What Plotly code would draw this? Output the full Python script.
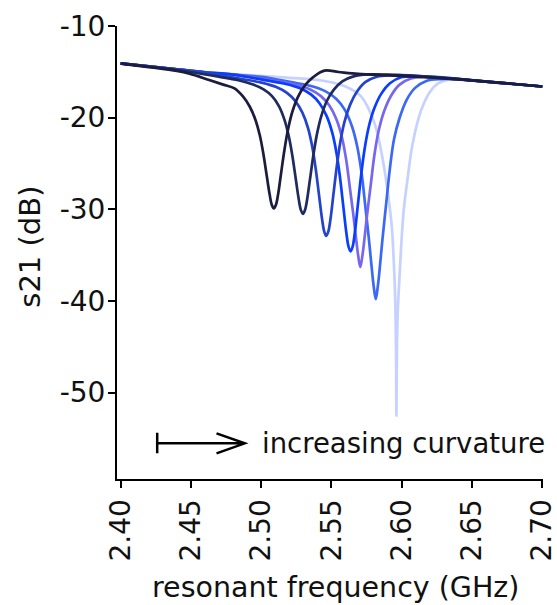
import plotly.graph_objects as go

# ---- data ----
c1_f = [2.400, 2.420, 2.440, 2.449, 2.463, 2.473, 2.481, 2.487, 2.492, 2.496, 2.499, 2.5015, 2.504, 2.506, 2.5075, 2.509,
        2.5105, 2.512, 2.514, 2.5165, 2.519, 2.522, 2.526, 2.531, 2.537, 2.545, 2.555, 2.569, 2.589, 2.600, 2.620, 2.640,
        2.660, 2.680, 2.700]
c1_db = [-14.10, -14.48, -14.90, -15.20, -15.90, -16.40, -16.81, -17.69, -18.84, -20.28, -21.92, -23.91, -26.40, -28.37,
         -29.50, -29.90, -29.50, -28.39, -26.23, -23.56, -21.35, -19.44, -17.78, -16.50, -15.58, -14.87, -15.02, -15.22,
         -15.37, -15.45, -15.60, -15.80, -16.06, -16.33, -16.60]

c2_f = [2.400, 2.420, 2.440, 2.4697, 2.4837, 2.4937, 2.5017, 2.5077, 2.5127, 2.5167, 2.5197, 2.5222, 2.5247, 2.5267,
        2.5282, 2.5297, 2.5312, 2.5327, 2.5347, 2.5372, 2.5397, 2.5427, 2.5467, 2.5517, 2.5577, 2.5657, 2.5757, 2.5897,
        2.6097, 2.630, 2.660, 2.680, 2.700]
c2_db = [-14.08, -14.44, -14.80, -15.53, -15.92, -16.36, -16.91, -17.65, -18.76, -20.30, -22.09, -24.18, -26.81, -28.89,
         -30.06, -30.50, -30.06, -28.90, -26.73, -24.01, -21.77, -19.85, -18.18, -16.95, -16.04, -15.50, -15.28, -15.31,
         -15.47, -15.70, -16.06, -16.33, -16.60]

c3_f = [2.400, 2.420, 2.440, 2.460, 2.4863, 2.5003, 2.5103, 2.5183, 2.5243, 2.5293, 2.5333, 2.5363, 2.5388, 2.5413,
        2.5433, 2.5448, 2.5463, 2.5478, 2.5493, 2.5513, 2.5538, 2.5563, 2.5593, 2.5633, 2.5683, 2.5743, 2.5823, 2.5923,
        2.6063, 2.6263, 2.650, 2.680, 2.700]
c3_db = [-14.07, -14.40, -14.73, -15.10, -15.78, -16.18, -16.64, -17.30, -18.19, -19.46, -21.13, -23.15, -25.60, -28.64,
         -31.06, -32.40, -32.90, -32.40, -31.06, -28.49, -25.30, -22.66, -20.44, -18.58, -17.12, -16.10, -15.53, -15.37,
         -15.38, -15.63, -15.94, -16.33, -16.60]

c4_f = [2.400, 2.420, 2.440, 2.460, 2.480, 2.5036, 2.5176, 2.5276, 2.5356, 2.5416, 2.5466, 2.5506, 2.5536, 2.5561,
        2.5586, 2.5606, 2.5621, 2.5636, 2.5651, 2.5666, 2.5686, 2.5711, 2.5736, 2.5766, 2.5806, 2.5856, 2.5916, 2.5996,
        2.6096, 2.6236, 2.6436, 2.670, 2.700]
c4_db = [-14.07, -14.40, -14.73, -15.05, -15.30, -15.94, -16.33, -16.80, -17.49, -18.45, -19.83, -21.67, -23.89, -26.57,
         -29.92, -32.58, -34.05, -34.60, -34.05, -32.58, -29.77, -26.27, -23.39, -20.97, -18.93, -17.35, -16.25, -15.60,
         -15.49, -15.55, -15.83, -16.20, -16.60]

c5_f = [2.400, 2.420, 2.440, 2.460, 2.480, 2.495, 2.5105, 2.5245, 2.5345, 2.5425, 2.5485, 2.5535, 2.5575, 2.5605,
        2.5630, 2.5655, 2.5675, 2.5690, 2.5705, 2.5720, 2.5735, 2.5755, 2.5780, 2.5805, 2.5835, 2.5875, 2.5925, 2.5985,
        2.6065, 2.6165, 2.6305, 2.6505, 2.680, 2.700]
c5_db = [-14.07, -14.40, -14.73, -15.05, -15.30, -15.60, -16.02, -16.41, -16.90, -17.65, -18.68, -20.18, -22.19, -24.63,
         -27.55, -30.53, -33.18, -35.05, -36.30, -35.05, -33.18, -30.38, -27.25, -24.13, -21.49, -19.28, -17.58, -16.40,
         -15.73, -15.56, -15.65, -15.93, -16.33, -16.60]

c6_f = [2.400, 2.420, 2.440, 2.460, 2.480, 2.500, 2.5215, 2.5355, 2.5455, 2.5535, 2.5595, 2.5645, 2.5685, 2.5715,
        2.5740, 2.5765, 2.5785, 2.5800, 2.5815, 2.5830, 2.5845, 2.5865, 2.5890, 2.5915, 2.5945, 2.5985, 2.6035, 2.6095,
        2.6175, 2.6275, 2.6415, 2.6615, 2.680, 2.700]
c6_db = [-14.07, -14.40, -14.73, -15.05, -15.30, -15.55, -16.13, -16.55, -17.11, -17.96, -19.15, -20.91, -23.28, -26.14,
         -29.57, -33.07, -36.18, -38.36, -39.80, -38.36, -36.18, -32.92, -29.27, -25.64, -22.35, -20.01, -18.05, -16.75,
         -15.99, -15.79, -15.84, -16.11, -16.34, -16.60]

c7_f = [2.400, 2.420, 2.440, 2.460, 2.490, 2.520, 2.545, 2.560, 2.5712, 2.5806, 2.5865, 2.5901, 2.5929, 2.5943, 2.5953,
        2.5959, 2.5962, 2.5966, 2.5972, 2.5984, 2.5996, 2.6014, 2.6043, 2.6078, 2.6138, 2.620, 2.6256, 2.633, 2.650,
        2.680, 2.700]
c7_db = [-14.07, -14.40, -14.73, -15.02, -15.35, -15.65, -16.00, -16.60, -17.70, -20.60, -24.60, -28.20, -31.90, -35.60,
         -39.50, -45.00, -52.50, -45.00, -41.00, -37.40, -34.00, -30.10, -26.50, -22.80, -19.20, -17.20, -16.30, -15.85,
         -15.95, -16.33, -16.60]

series = [  # drawn light first, darkest last
    (c7_f, c7_db, "#c6d1ff"),
    (c6_f, c6_db, "#3c69f4"),
    (c5_f, c5_db, "#7668ee"),
    (c4_f, c4_db, "#0b3dff"),
    (c3_f, c3_db, "#2443cc"),
    (c2_f, c2_db, "#1f2b5e"),
    (c1_f, c1_db, "#1c1c3e"),
]

x_ticks = [2.40, 2.45, 2.50, 2.55, 2.60, 2.65, 2.70]
x_tick_text = ["2.40", "2.45", "2.50", "2.55", "2.60", "2.65", "2.70"]
y_ticks = [-10, -20, -30, -40, -50]
y_tick_text = ["-10", "-20", "-30", "-40", "-50"]

FONT = "DejaVu Sans"
TXT = "#111111"

fig = go.Figure()
for f, db, col in series:
    fig.add_trace(go.Scatter(x=f, y=db, mode="lines",
                             line=dict(color=col, width=2.7, shape="spline", smoothing=1.0),
                             showlegend=False, hoverinfo="skip"))

fig.update_layout(
    width=557, height=605,
    margin=dict(l=117, r=14, t=26, b=126),
    paper_bgcolor="white", plot_bgcolor="white",
    font=dict(family=FONT, size=27, color=TXT),
    xaxis=dict(range=[2.3974, 2.7005], tickvals=x_ticks, ticktext=x_tick_text, tickangle=-90,
               showline=True, linecolor="black", linewidth=2, ticks="outside", ticklen=7,
               tickwidth=2, tickcolor="black", showgrid=False, zeroline=False,
               automargin=False, ticklabeloverflow="allow",
               tickfont=dict(family=FONT, size=28, color=TXT)),
    yaxis=dict(range=[-59.43, -10], tickvals=y_ticks, ticktext=y_tick_text,
               showline=True, linecolor="black", linewidth=2, ticks="outside", ticklen=7,
               tickwidth=2, tickcolor="black", showgrid=False, zeroline=False,
               automargin=False, ticklabelstandoff=-3,
               tickfont=dict(family=FONT, size=28, color=TXT)),
    shapes=[dict(type="path", xref="x", yref="y",
                 path="M 2.4260,-55.54 L 2.4883,-55.54 M 2.4260,-54.38 L 2.4260,-56.63 "
                      "M 2.4682,-54.45 L 2.4883,-55.54 L 2.4682,-56.63",
                 line=dict(color="black", width=2.5))],
    annotations=[
        dict(x=2.4989, y=-55.5, xref="x", yref="y", text="increasing curvature",
             showarrow=False, xanchor="left", yanchor="middle",
             font=dict(family=FONT, size=27.5, color=TXT)),
        dict(x=0.514, y=-0.24, xref="paper", yref="paper", text="resonant frequency (GHz)",
             showarrow=False, xanchor="center", yanchor="middle",
             font=dict(family=FONT, size=28.5, color=TXT)),
        dict(x=-0.204, y=0.513, xref="paper", yref="paper", text="s21 (dB)", textangle=-90,
             showarrow=False, xanchor="center", yanchor="middle",
             font=dict(family=FONT, size=29, color=TXT)),
    ],
)

fig.write_html("out.html")
